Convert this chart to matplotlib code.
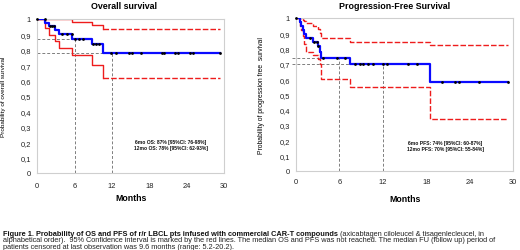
import matplotlib
matplotlib.use('Agg')
import matplotlib.pyplot as plt
import numpy as np

plt.rcParams['font.family'] = ['Liberation Sans', 'DejaVu Sans']

# ---------------- data ----------------
# Overall survival (Kaplan-Meier)
os_event_t = [1.3, 1.8, 2.9, 3.5, 5.6, 8.7, 10.5]
os_surv = [0.975, 0.955, 0.93, 0.90, 0.87, 0.835, 0.78]
os_upper = [1.0, 1.0, 1.0, 1.0, 0.978, 0.958, 0.935]
os_lower = [0.94, 0.895, 0.86, 0.81, 0.765, 0.70, 0.62]
os_censor_t = [0, 1.2, 2.0, 2.3, 2.6, 3.9, 4.7, 5.5, 6.05, 6.75, 7.4, 9.0, 9.4,
               9.95, 11.9, 12.6, 14.7, 15.2, 16.7, 20.0, 20.4, 22.1, 22.5,
               24.5, 25.0, 29.3]
os_end = 29.3
os_marks = [6, 12]
os_mark_vals = [0.87, 0.78]
os_text = ["6mo OS: 87% [95%CI: 76-98%]", "12mo OS: 78% [95%CI: 62-93%]"]

# Progression-free survival
pfs_event_t = [0.5, 0.7, 0.9, 1.1, 1.4, 2.3, 3.05, 3.3, 3.5, 7.4, 18.5]
pfs_surv = [0.974, 0.948, 0.922, 0.896, 0.870, 0.843, 0.815, 0.78, 0.74, 0.70, 0.58]
pfs_upper = [1.0, 1.0, 0.99, 0.98, 0.97, 0.95, 0.93, 0.90, 0.87, 0.845, 0.82]
pfs_lower = [0.95, 0.92, 0.88, 0.83, 0.775, 0.755, 0.73, 0.70, 0.60, 0.55, 0.34]
pfs_censor_t = [0, 1.9, 2.5, 2.95, 3.1, 3.7, 5.7, 6.8, 8.2, 8.8, 9.3, 10.0, 10.6,
                12.05, 12.5, 15.4, 16.7, 20.1, 22.0, 22.5, 25.2, 29.2]
pfs_end = 29.3
pfs_marks = [6, 12]
pfs_mark_vals = [0.74, 0.70]
pfs_text = ["6mo PFS: 74% [95%CI: 60-87%]", "12mo PFS: 70% [95%CI: 55-84%]"]

x_ticks = [0, 6, 12, 18, 24, 30]
y_ticks = [0, 0.1, 0.2, 0.3, 0.4, 0.5, 0.6, 0.7, 0.8, 0.9, 1.0]
y_tick_labels = ['0', '0,1', '0,2', '0,3', '0,4', '0,5', '0,6', '0,7', '0,8', '0,9', '1']

BLUE = '#0a0aff'
RED = '#ee1c1c'
GRAY = '#7f7f7f'
FRAME = '#cfcfcf'


def step_xy(times, vals, end):
    return [0] + list(times) + [end], [1.0] + list(vals) + [vals[-1]]


def surv_at(times, vals, t):
    idx = np.searchsorted(times, t, side='right')
    return 1.0 if idx == 0 else vals[idx - 1]


def draw_panel(ax, ev_t, surv, up, lo, cens, end, marks, mark_vals, texts,
               red_solid_until_last, ref_x0, txt_xy, ypad, xpad):
    ax.set_xlim(0, 30)
    ax.set_ylim(0, 1)
    for s in ax.spines.values():
        s.set_color(FRAME)
        s.set_linewidth(0.8)
    ax.set_xticks(x_ticks)
    ax.set_yticks(y_ticks)
    ax.set_yticklabels(y_tick_labels)
    ax.tick_params(axis='both', length=0, labelsize=5.4, colors='#222222')
    ax.tick_params(axis='x', pad=xpad)
    ax.tick_params(axis='y', pad=ypad)

    # reference lines at 6 and 12 months
    for m, v in zip(marks, mark_vals):
        ax.plot([ref_x0, m], [v, v], color=GRAY, lw=0.7, dashes=(3, 2), clip_on=False, zorder=1)
        ax.plot([m, m], [0, v], color=GRAY, lw=0.7, dashes=(3, 2), zorder=1)

    # 95% confidence limits
    for band in (up, lo):
        x, y = step_xy(ev_t, band, end)
        if red_solid_until_last:
            n = len(ev_t)
            ax.plot(x[:n + 1], y[:n + 1], drawstyle='steps-post', color=RED, lw=1.0, zorder=2)
            ax.plot([ev_t[-1], end], [band[-1], band[-1]], color=RED, lw=1.0,
                    dashes=(4, 1.5), zorder=2)
        else:
            ax.plot(x, y, drawstyle='steps-post', color=RED, lw=1.0, dashes=(4, 1.5), zorder=2)

    # KM curve with censor marks
    x, y = step_xy(ev_t, surv, end)
    ax.plot(x, y, drawstyle='steps-post', color=BLUE, lw=1.6, zorder=3)
    cy = [surv_at(ev_t, surv, t) for t in cens]
    ax.plot(cens, cy, 'o', color='black', ms=2.0, mew=0, zorder=4, clip_on=False)

    ax.text(txt_xy[0], txt_xy[1], texts[0] + "\n" + texts[1], ha='center', va='center',
            fontsize=3.6, fontweight='bold', linespacing=1.25, color='#111111')


fig = plt.figure(figsize=(5.2, 2.51), dpi=100)

ax1 = fig.add_axes([37.3 / 520, 1 - 174 / 251, 187 / 520, 154 / 251])
draw_panel(ax1, os_event_t, os_surv, os_upper, os_lower, os_censor_t, os_end,
           os_marks, os_mark_vals, os_text, True, 0, (21.4, 0.183), 4.5, 6.5)
ax1.set_ylabel('Probability of overall survival', fontsize=4.6)
ax1.yaxis.set_label_coords(-0.17, 0.5)

ax2 = fig.add_axes([296 / 520, 1 - 171.7 / 251, 217.3 / 520, 152.7 / 251])
draw_panel(ax2, pfs_event_t, pfs_surv, pfs_upper, pfs_lower, pfs_censor_t, pfs_end,
           pfs_marks, pfs_mark_vals, pfs_text, False, -0.6, (20.6, 0.168), 4.5, 5.0)
ax2.set_ylabel('Probability of progression free  survival', fontsize=4.9)
ax2.yaxis.set_label_coords(-0.143, 0.5)

# titles and axis titles
fig.text(124 / 520, 1 - 6.5 / 251, 'Overall survival', ha='center', va='center',
         fontsize=6.4, fontweight='bold')
fig.text(395 / 520, 1 - 6.5 / 251, 'Progression-Free Survival', ha='center', va='center',
         fontsize=6.4, fontweight='bold')
fig.text(130.8 / 520, 1 - 198.5 / 251, 'Months', ha='center', va='center',
         fontsize=6.3, fontweight='bold')
fig.text(404.6 / 520, 1 - 200 / 251, 'Months', ha='center', va='center',
         fontsize=6.3, fontweight='bold')

# caption
cap_fs = 5.3
cap_bold = 'Figure 1. Probability of OS and PFS of r/r LBCL pts infused with commercial CAR-T compounds'
cap_rest1 = ' (axicabtagen ciloleucel & tisagenlecleucel, in'
cap_line2 = ('alphabetical order).  95% Confidence interval is marked by the red lines. '
             'The median OS and PFS was not reached. The median FU (follow up) period of')
cap_line3 = 'patients censored at last observation was 9.6 months (range: 5.2-20.2).'
tb = fig.text(2.7 / 520, 1 - 234.3 / 251, cap_bold, ha='left', va='center',
              fontsize=cap_fs, fontweight='bold', color='#111111')
fig.add_artist(plt.Annotation(cap_rest1, xy=(1, 0.5), xycoords=tb, va='center',
                              ha='left', fontsize=cap_fs, color='#222222'))
fig.text(2.7 / 520, 1 - 240.9 / 251, cap_line2, ha='left', va='center',
         fontsize=cap_fs, color='#222222')
fig.text(2.7 / 520, 1 - 247.5 / 251, cap_line3, ha='left', va='center',
         fontsize=cap_fs, color='#222222')

fig.savefig('out.png', dpi=100)
